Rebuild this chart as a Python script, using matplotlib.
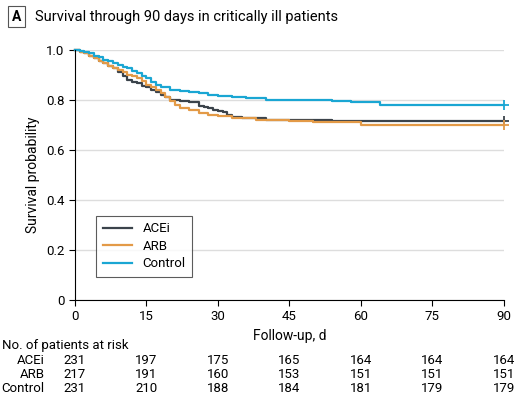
import matplotlib

matplotlib.use("Agg")
import matplotlib.pyplot as plt

plt.rcParams["font.family"] = ["Roboto", "DejaVu Sans"]

# step curves (day, survival)
acei_t = [0, 1, 2, 3, 4, 5, 6, 7, 8, 9, 10, 11, 12, 13, 14, 15, 16, 17, 18, 19, 20, 22, 24, 26, 27, 28, 29, 30, 31, 32, 33, 35, 40, 54, 90]
acei_s = [1.0, 0.99, 0.985, 0.975, 0.965, 0.955, 0.945, 0.935, 0.925, 0.91, 0.895, 0.88, 0.87, 0.865, 0.855, 0.85, 0.84, 0.83, 0.82, 0.81, 0.80, 0.795, 0.79, 0.775, 0.77, 0.765, 0.76, 0.755, 0.75, 0.74, 0.73, 0.725, 0.72, 0.713, 0.713]
arb_t = [0, 1, 2, 3, 4, 5, 6, 7, 8, 9, 10, 11, 12, 13, 14, 15, 16, 17, 18, 19, 20, 21, 22, 24, 26, 28, 30, 33, 38, 45, 50, 60, 90]
arb_s = [1.0, 0.99, 0.985, 0.975, 0.965, 0.955, 0.945, 0.935, 0.925, 0.92, 0.91, 0.9, 0.895, 0.885, 0.875, 0.86, 0.85, 0.84, 0.825, 0.81, 0.795, 0.78, 0.765, 0.76, 0.745, 0.74, 0.735, 0.725, 0.72, 0.715, 0.71, 0.697, 0.697]
ctrl_t = [0, 1, 2, 3, 4, 5, 6, 7, 8, 9, 10, 11, 12, 13, 14, 15, 16, 17, 18, 20, 22, 24, 26, 28, 30, 33, 36, 40, 42, 50, 54, 58, 64, 90]
ctrl_s = [1.0, 0.995, 0.99, 0.985, 0.975, 0.97, 0.96, 0.955, 0.945, 0.94, 0.93, 0.925, 0.915, 0.905, 0.895, 0.885, 0.87, 0.86, 0.85, 0.84, 0.835, 0.83, 0.825, 0.82, 0.815, 0.81, 0.805, 0.80, 0.80, 0.80, 0.795, 0.79, 0.777, 0.777]

ticks = [0, 15, 30, 45, 60, 75, 90]
risk_acei = [231, 197, 175, 165, 164, 164, 164]
risk_arb = [217, 191, 160, 153, 151, 151, 151]
risk_ctrl = [231, 210, 188, 184, 181, 179, 179]

colors = {"ACEi": "#3b434b", "ARB": "#e39a47", "Control": "#1aa6d3"}

fig = plt.figure(figsize=(5.2, 4.17), dpi=100)
ax = fig.add_axes([0.144, 0.281, 0.825, 0.6])
for name, t, s in [("ACEi", acei_t, acei_s), ("ARB", arb_t, arb_s), ("Control", ctrl_t, ctrl_s)]:
    ax.step(t, s, where="post", color=colors[name], lw=1.6, label=name, clip_on=False)
    ax.plot([t[-1]], [s[-1]], marker="+", color=colors[name], ms=7, mew=1.3, clip_on=False)

ax.set_xlim(0, 90)
ax.set_ylim(0, 1.0)
ax.set_xticks(ticks)
ax.set_yticks([0, 0.2, 0.4, 0.6, 0.8, 1.0])
ax.set_yticklabels(["0", "0.2", "0.4", "0.6", "0.8", "1.0"])
ax.yaxis.grid(True, color="#dddddd", lw=1)
ax.set_axisbelow(True)
for side in ["top", "right"]:
    ax.spines[side].set_visible(False)
ax.tick_params(labelsize=9.5, length=4)
ax.set_xlabel("Follow-up, d", fontsize=10)
ax.set_ylabel("Survival probability", fontsize=10)
leg = ax.legend(loc="lower left", bbox_to_anchor=(0.035, 0.065), fontsize=9.5, frameon=True,
                fancybox=False, edgecolor="#333333", handlelength=2.2, borderpad=0.5,
                labelspacing=0.35)
leg.get_frame().set_linewidth(0.8)

# title box
fig.text(0.032, 0.96, "A", fontsize=10, fontweight="bold", va="center", ha="center",
         bbox=dict(boxstyle="square,pad=0.25", fc="white", ec="#555555", lw=0.8))
fig.text(0.068, 0.96, "Survival through 90 days in critically ill patients", fontsize=10.5, va="center")

# risk table
def fy(px):
    return 1 - px / 417

fig.text(0.004, fy(345), "No. of patients at risk", fontsize=9.5, va="center")
for row, (label, vals) in enumerate([("ACEi", risk_acei), ("ARB", risk_arb), ("Control", risk_ctrl)]):
    y = fy(360 + row * 14.5)
    fig.text(0.086, y, label, fontsize=9.5, va="center", ha="right")
    for t, v in zip(ticks, vals):
        x = ax.transAxes.inverted().transform(ax.transData.transform((t, 0)))[0]
        fx = 0.144 + 0.825 * x
        fig.text(fx, y, str(v), fontsize=9.5, va="center", ha="center")

fig.savefig("out.png", dpi=100)
